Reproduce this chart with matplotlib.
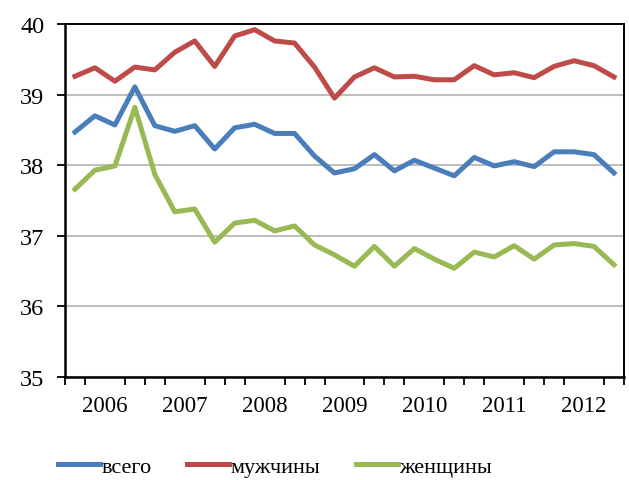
import matplotlib
matplotlib.use("Agg")
import matplotlib.pyplot as plt
import numpy as np

plt.rcParams['font.family'] = ['Liberation Serif', 'DejaVu Serif']

years = ['2006', '2007', '2008', '2009', '2010', '2011', '2012']

# quarterly values, 2006 Q1 .. 2012 Q4
vsego = [38.47, 38.70, 38.57, 39.11, 38.56, 38.48, 38.56, 38.23, 38.53, 38.58,
         38.45, 38.45, 38.13, 37.89, 37.95, 38.15, 37.92, 38.07, 37.96, 37.85,
         38.11, 37.99, 38.05, 37.98, 38.19, 38.19, 38.15, 37.89]
muzh = [39.26, 39.38, 39.19, 39.39, 39.35, 39.60, 39.76, 39.40, 39.83, 39.92,
        39.76, 39.73, 39.39, 38.95, 39.25, 39.38, 39.25, 39.26, 39.21, 39.21,
        39.41, 39.28, 39.31, 39.24, 39.40, 39.48, 39.41, 39.25]
zhen = [37.66, 37.93, 37.99, 38.82, 37.87, 37.34, 37.38, 36.91, 37.18, 37.22,
        37.07, 37.14, 36.87, 36.73, 36.57, 36.85, 36.57, 36.82, 36.67, 36.54,
        36.77, 36.70, 36.86, 36.67, 36.87, 36.89, 36.85, 36.59]

x = np.arange(len(vsego))

fig = plt.figure(figsize=(6.29, 4.81), dpi=100)
ax = fig.add_axes([0.1033, 0.2141, 0.8887, 0.7339])

ax.plot(x, vsego, color='#4A7EBB', lw=3.6, label='всего', solid_joinstyle='round')
ax.plot(x, muzh, color='#BE4B48', lw=3.6, label='мужчины', solid_joinstyle='round')
ax.plot(x, zhen, color='#98B954', lw=3.6, label='женщины', solid_joinstyle='round')

ax.set_ylim(35, 40)
ax.set_yticks(np.arange(35, 41, 1))
ax.set_xlim(-0.5, len(x) - 0.5)
ax.yaxis.grid(True, color='#BFBFBF', lw=1.5)
ax.set_axisbelow(True)

ax.set_xticks(np.arange(len(years)) * 4 + 1.5)
ax.set_xticklabels(years)
ax.set_xticks(np.arange(-0.5, len(x), 1), minor=True)
ax.tick_params(axis='x', which='major', length=0, pad=13, labelsize=16.5)
ax.tick_params(axis='x', which='minor', length=6, width=1.3, direction='out')
ax.tick_params(axis='y', length=6, width=1.3, pad=9, labelsize=17.5)

for s in ['left', 'bottom']:
    ax.spines[s].set_linewidth(1.8)
for s in ['top', 'right']:
    ax.spines[s].set_linewidth(1.4)
for s in ax.spines.values():
    s.set_color('black')

fig.legend(loc='center', bbox_to_anchor=(0.437, 0.028), ncol=3, frameon=False,
           fontsize=16, handlelength=1.9, handletextpad=0.05, columnspacing=1.6)

fig.savefig('out.png', dpi=100)
